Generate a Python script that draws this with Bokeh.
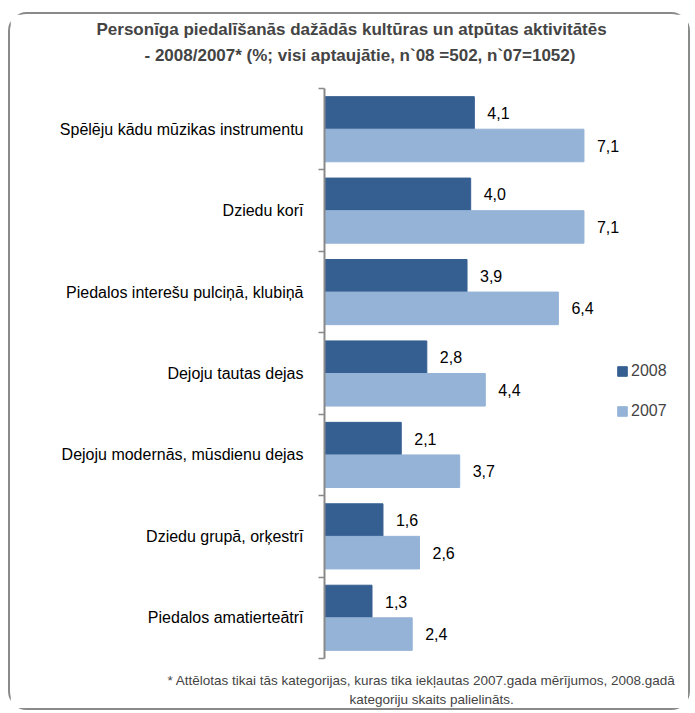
from bokeh.plotting import figure
from bokeh.models import Range1d, FixedTicker, Title, ColumnDataSource, LabelSet
from bokeh.core.properties import value
from bokeh.embed import file_html
from bokeh.resources import INLINE
import numpy as np

categories = [
    "Spēlēju kādu mūzikas instrumentu",
    "Dziedu korī",
    "Piedalos interešu pulciņā, klubiņā",
    "Dejoju tautas dejas",
    "Dejoju modernās, mūsdienu dejas",
    "Dziedu grupā, orķestrī",
    "Piedalos amatierteātrī",
]
values_2008 = [4.1, 4.0, 3.9, 2.8, 2.1, 1.6, 1.3]
values_2007 = [7.1, 7.1, 6.4, 4.4, 3.7, 2.6, 2.4]
series_names = ["2008", "2007"]
title_lines = [
    "Personīga piedalīšanās dažādās kultūras un atpūtas aktivitātēs",
    "- 2008/2007* (%; visi aptaujātie, n`08 =502, n`07=1052)",
]
footnote_lines = [
    "* Attēlotas tikai tās kategorijas, kuras tika iekļautas 2007.gada mērījumos, 2008.gadā",
    "kategoriju skaits palielināts.",
]

C2008 = "#365F91"
C2007 = "#95B3D7"
FONT = "Liberation Sans"

n = len(categories)
centers = np.arange(n) + 0.5

p = figure(width=682, height=698, output_backend="svg", toolbar_location=None,
           x_range=Range1d(0, 10.07), y_range=Range1d(n, 0),
           x_axis_location=None, min_border_left=314, min_border_right=0,
           min_border_top=74, min_border_bottom=54)
p.margin = (12, 0, 0, 8)
p.styles = {"border": "2px solid #8A8A8A", "border-radius": "19px"}
p.grid.visible = False
p.outline_line_color = None
p.background_fill_color = "white"
p.border_fill_color = "white"

src = ColumnDataSource(dict(
    y08=centers - 0.2, y07=centers + 0.2,
    v08=values_2008, v07=values_2007,
    t08=[f"{v:.1f}".replace(".", ",") for v in values_2008],
    t07=[f"{v:.1f}".replace(".", ",") for v in values_2007],
))

p.hbar(y="y08", right="v08", left=0, height=0.4, source=src, color=C2008,
       legend_label=series_names[0])
p.hbar(y="y07", right="v07", left=0, height=0.4, source=src, color=C2007,
       legend_label=series_names[1])

for xcol, ycol, tcol in [("v08", "y08", "t08"), ("v07", "y07", "t07")]:
    p.add_layout(LabelSet(x=xcol, y=ycol, text=tcol, source=src, x_offset=13,
                          text_baseline="middle", text_align="left",
                          text_font=value(FONT), text_font_size="16px",
                          text_color="#000000"))

ax = p.yaxis[0]
ax.ticker = FixedTicker(ticks=list(centers), minor_ticks=list(range(n + 1)))
ax.major_label_overrides = {float(c): lab for c, lab in zip(centers, categories)}
ax.major_tick_line_color = None
ax.major_tick_out = 0
ax.major_tick_in = 0
ax.minor_tick_out = 6
ax.minor_tick_in = 0
ax.minor_tick_line_color = "#898989"
ax.minor_tick_line_width = 1.5
ax.axis_line_color = "#898989"
ax.axis_line_width = 2
ax.major_label_standoff = 15
ax.major_label_text_font = FONT
ax.major_label_text_font_size = "16px"
ax.major_label_text_color = "#000000"

lg = p.legend[0]
lg.location = (292, 238)
lg.glyph_width = 12
lg.glyph_height = 12
lg.label_height = 16
lg.spacing = 22
lg.padding = 0
lg.margin = 0
lg.label_standoff = 3
lg.border_line_color = None
lg.background_fill_alpha = 0
lg.label_text_font = FONT
lg.label_text_font_size = "16px"

# title (spacer nearest the frame, then line 2, then line 1)
p.add_layout(Title(text=" ", text_font_size="1px", standoff=16), "above")
p.add_layout(Title(text=title_lines[1], align="left", offset=-180, text_font=FONT,
                   text_font_size="17px", text_font_style="bold", standoff=10), "above")
p.add_layout(Title(text=title_lines[0], align="left", offset=-228, text_font=FONT,
                   text_font_size="17px", text_font_style="bold", standoff=0), "above")
# footnote
p.add_layout(Title(text=" ", text_font_size="1px", standoff=8), "below")
p.add_layout(Title(text=footnote_lines[0], align="left", offset=-157, text_font=FONT,
                   text_font_size="13.5px", text_font_style="normal", standoff=2), "below")
p.add_layout(Title(text=footnote_lines[1], align="left", offset=25, text_font=FONT,
                   text_font_size="13.5px", text_font_style="normal", standoff=2), "below")

open("out.html", "w").write(file_html(p, INLINE))
